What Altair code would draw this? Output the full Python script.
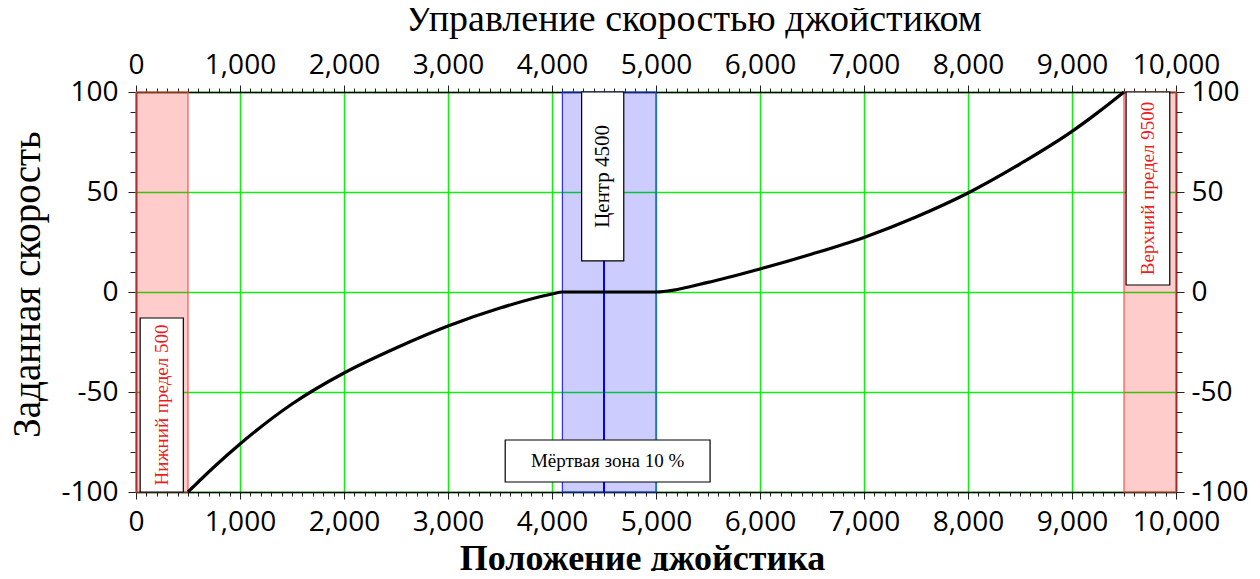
import altair as alt
import pandas as pd

# ---- data ----
positions = [500, 750, 1000, 1500, 2000, 2500, 3000, 3500, 4000, 4100,
             5000, 5500, 6000, 6500, 7000, 7500, 8000, 8500, 9000, 9250, 9500]
speeds = [-100, -87.5, -76, -56, -40.5, -28, -17, -8, -1.0, 0,
          0, 4.8, 11.5, 19, 27.3, 37.5, 49.5, 64, 80.3, 89.8, 100]

limit_from = [0, 9500]
limit_to = [500, 10000]
dead_from = [4100]
dead_to = [5000]
center_pos = [4500]

box_x1 = [40, 9520, 4285, 3550]
box_x2 = [455, 9940, 4690, 5520]
box_y1 = [-13, 100, 100, -74]
box_y2 = [-100, 3.5, 15.6, -95]
box_text = ["Нижний предел 500", "Верхний предел 9500", "Центр 4500", "Мёртвая зона 10 %"]
box_kind = ["limit", "limit", "center", "dead"]

x_ticks = list(range(0, 10001, 100))
y_ticks = list(range(-100, 101, 10))

title_top = "Управление скоростью джойстиком"
title_bottom = "Положение джойстика"
title_left = "Заданная скорость"

# ---- tables ----
curve = pd.DataFrame({"x": positions, "y": speeds})
limits = pd.DataFrame({"x": limit_from, "x2": limit_to})
dead = pd.DataFrame({"x": dead_from, "x2": dead_to})
cent = pd.DataFrame({"x": center_pos})
boxes = pd.DataFrame({"x": box_x1, "x2": box_x2, "y": box_y1, "y2": box_y2,
                      "text": box_text, "kind": box_kind})
boxes["xc"] = (boxes["x"] + boxes["x2"]) / 2
boxes["yc"] = (boxes["y"] + boxes["y2"]) / 2

xs = alt.Scale(domain=[0, 10000], nice=False, zero=False)
ys = alt.Scale(domain=[-100, 100], nice=False, zero=False)

SANS = "Open Sans"
SERIF = "Liberation Serif"
GREEN = "#10f010"

mx = "datum.value % 1000 === 0"
my = "datum.value % 50 === 0"

common_axis = dict(
    labelFont=SANS, labelFontSize=28, labelColor="#000",
    labelFlush=False, labelOverlap=False, labelBound=False,
    domainColor="#000", domainWidth=1.5,
    tickColor="#222", tickWidth=1,
    titleFont=SERIF, titleColor="#000",
)

x_bottom = alt.Axis(
    orient="bottom", values=x_ticks,
    labelExpr=f"{mx} ? format(datum.value, ',') : ''",
    tickSize={"condition": {"test": mx, "value": 7}, "value": 4},
    labelPadding=9,
    grid=True, gridColor=GREEN, gridWidth=1.5,
    gridOpacity={"condition": {"test": mx, "value": 1}, "value": 0},
    title=title_bottom, titleFontSize=36, titleFontWeight="bold",
    titleX=506, titleY=77, titleAlign="center", titleBaseline="alphabetic",
    **common_axis)

x_top = alt.Axis(
    orient="top", values=x_ticks,
    labelExpr=f"{mx} ? format(datum.value, ',') : ''",
    tickSize={"condition": {"test": mx, "value": 7}, "value": 4},
    labelPadding=6, grid=False,
    title=title_top, titleFontSize=38, titleFontWeight="normal",
    titleX=557, titleY=-62, titleAlign="center", titleBaseline="alphabetic",
    **common_axis)

y_left = alt.Axis(
    orient="left", values=y_ticks,
    labelExpr=f"{my} ? ('' + datum.value) : ''",
    tickSize={"condition": {"test": my, "value": 8}, "value": 6},
    labelPadding=10,
    grid=True, gridColor=GREEN, gridWidth=1.5,
    gridOpacity={"condition": {"test": my, "value": 1}, "value": 0},
    title=title_left, titleFontSize=39, titleFontWeight="normal",
    titleAngle=270, titleX=-97, titleY=192, titleAlign="center",
    titleBaseline="alphabetic",
    **common_axis)

y_right = alt.Axis(
    orient="right", values=y_ticks,
    labelExpr=f"{my} ? ('' + datum.value) : ''",
    tickSize={"condition": {"test": my, "value": 8}, "value": 6},
    labelPadding=7, grid=False, title="",
    **common_axis)

# ---- layers ----
limit_rects = alt.Chart(limits).mark_rect(
    fill="#ff0000", fillOpacity=0.2, stroke="#ff5050", strokeWidth=1.2
).encode(
    x=alt.X("x:Q", scale=xs, axis=None),
    x2="x2:Q",
)

dead_rect = alt.Chart(dead).mark_rect(
    fill="#0000ff", fillOpacity=0.2, stroke="#3030ff", strokeWidth=1.2
).encode(
    x=alt.X("x:Q", scale=xs, axis=None),
    x2="x2:Q",
)

center_rule = alt.Chart(cent).mark_rule(color="#0000ff", strokeWidth=2).encode(
    x=alt.X("x:Q", scale=xs, axis=None),
)

line = alt.Chart(curve).mark_line(
    color="#000", strokeWidth=3.2, interpolate="monotone"
).encode(
    x=alt.X("x:Q", scale=xs, axis=x_bottom),
    y=alt.Y("y:Q", scale=ys, axis=y_left),
)

box_rects = alt.Chart(boxes).mark_rect(
    fill="#fff", stroke="#000", strokeWidth=1.2
).encode(
    x=alt.X("x:Q", scale=xs, axis=x_top),
    x2="x2:Q",
    y=alt.Y("y:Q", scale=ys, axis=y_right),
    y2="y2:Q",
)

limit_text = alt.Chart(boxes).transform_filter("datum.kind === 'limit'").mark_text(
    font=SERIF, fontSize=19, color="#ee1c24", angle=270,
    align="center", baseline="middle"
).encode(
    x=alt.X("xc:Q", scale=xs, axis=None),
    y=alt.Y("yc:Q", scale=ys, axis=None),
    text="text:N",
)

center_text = alt.Chart(boxes).transform_filter("datum.kind === 'center'").mark_text(
    font=SERIF, fontSize=21, color="#000", angle=270,
    align="center", baseline="middle"
).encode(
    x=alt.X("xc:Q", scale=xs, axis=None),
    y=alt.Y("yc:Q", scale=ys, axis=None),
    text="text:N",
)

dead_text = alt.Chart(boxes).transform_filter("datum.kind === 'dead'").mark_text(
    font=SERIF, fontSize=19, color="#000",
    align="center", baseline="middle"
).encode(
    x=alt.X("xc:Q", scale=xs, axis=None),
    y=alt.Y("yc:Q", scale=ys, axis=None),
    text="text:N",
)

chart = alt.layer(
    limit_rects, dead_rect, center_rule, line, box_rects,
    limit_text, center_text, dead_text
).resolve_axis(
    x="independent", y="independent"
).resolve_scale(
    x="shared", y="shared"
).properties(
    width=1040, height=400,
    autosize=alt.AutoSizeParams(type="none"),
    padding={"left": 128, "top": 84, "right": 76, "bottom": 79},
    background="#ffffff",
).configure_view(stroke="transparent")

chart.save("out.html", embed_options={"renderer": "svg", "actions": False})
